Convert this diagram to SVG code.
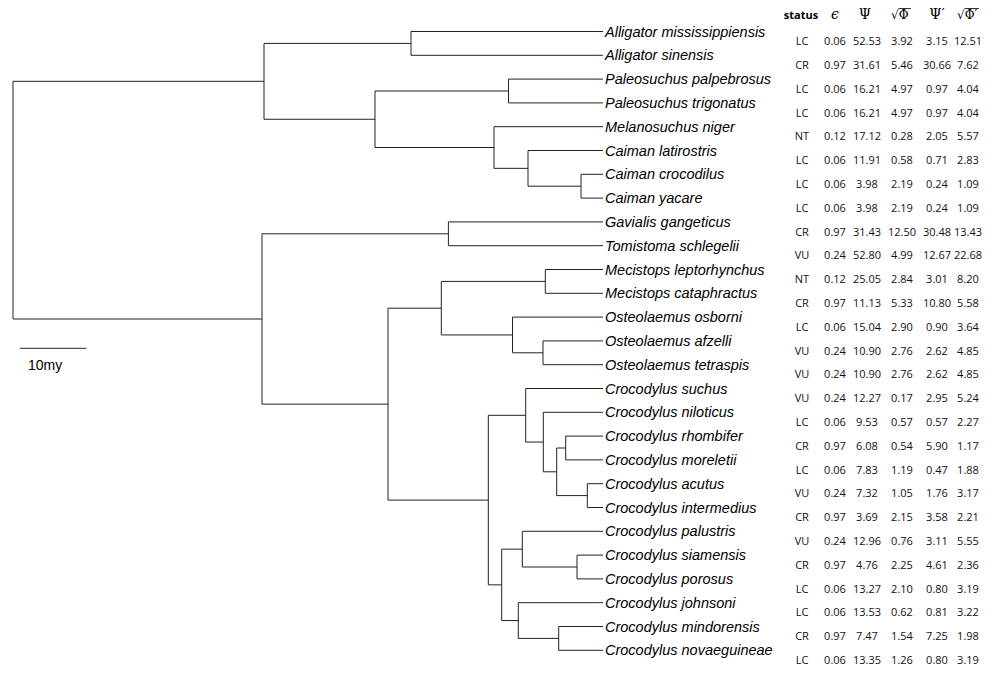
<svg xmlns="http://www.w3.org/2000/svg" width="997" height="682" viewBox="0 0 997 682">
<style>
.e{fill:none;stroke:#222;stroke-width:1}
.sp{font-family:"Liberation Sans",Arial,sans-serif;font-style:italic;font-size:14.5px;fill:#000}
.t{font-family:"Open Sans","Liberation Sans",sans-serif;font-size:11px;fill:#111;text-anchor:middle}
.h{font-family:"DejaVu Serif","Liberation Serif",serif;font-size:14px;fill:#000;text-anchor:middle}
.hs{font-family:"DejaVu Serif","Liberation Serif",serif;font-size:12px;fill:#000}
.st{font-family:"Open Sans","Liberation Sans",sans-serif;font-size:11px;font-weight:bold;fill:#000;text-anchor:middle}
.lab{font-family:"Liberation Sans",Arial,sans-serif;font-size:14px;fill:#000}
</style>
<rect width="997" height="682" fill="#fff"/>
<g id="connectors">
<path class="e" d="M264 81.3H13V319H262"/>
<path class="e" d="M411 43.4H264V119.25H375"/>
<path class="e" d="M603 31.5H411V55.3H603"/>
<path class="e" d="M508.5 91H375V147.5H494"/>
<path class="e" d="M603 79.1H508.5V102.9H603"/>
<path class="e" d="M603 126.7H494V168.35H528"/>
<path class="e" d="M603 150.5H528V186.2H581"/>
<path class="e" d="M603 174.3H581V198.1H603"/>
<path class="e" d="M448.4 233.8H262V404.15H388"/>
<path class="e" d="M603 221.9H448.4V245.7H603"/>
<path class="e" d="M441.3 308.2H388V500.1H488.3"/>
<path class="e" d="M545.3 281.4H441.3V334.95H512.5"/>
<path class="e" d="M603 269.5H545.3V293.3H603"/>
<path class="e" d="M603 317.1H512.5V352.8H543"/>
<path class="e" d="M603 340.9H543V364.7H603"/>
<path class="e" d="M525.7 415.3H488.3V584.85H501.7"/>
<path class="e" d="M603 388.5H525.7V442.05H543.3"/>
<path class="e" d="M603 412.3H543.3V471.8H556.7"/>
<path class="e" d="M565.7 448H556.7V495.6H587.3"/>
<path class="e" d="M603 436.1H565.7V459.9H603"/>
<path class="e" d="M603 483.7H587.3V507.5H603"/>
<path class="e" d="M522.3 549.15H501.7V620.55H518.3"/>
<path class="e" d="M603 531.3H522.3V567H577"/>
<path class="e" d="M603 555.1H577V578.9H603"/>
<path class="e" d="M603 602.7H518.3V638.4H558.7"/>
<path class="e" d="M603 626.5H558.7V650.3H603"/>
</g>
<g id="scalebar">
<path class="e" d="M20 348.3H86.5"/>
<text class="lab" x="28" y="369.5">10my</text>
</g>
<g id="header">
<text class="st" x="801" y="19">status</text>
<text class="h" x="835" y="19" font-style="italic">ϵ</text>
<text class="h" x="865" y="19">Ψ</text>
<text class="hs" x="891" y="19">√Φ</text>
<path d="M898.5 8.5H911" stroke="#000" stroke-width="0.8"/>
<text class="h" x="937" y="19">Ψ′</text>
<text class="hs" x="957" y="19">√Φ′</text>
<path d="M964.5 8.5H979" stroke="#000" stroke-width="0.8"/>
</g>
<g id="leaf-a-mississippiensis" transform="translate(0,31.5)"><text class="sp" x="605" y="5">Alligator mississippiensis</text><g transform="translate(0,13.7)"><text class="t" x="802">LC</text><text class="t" x="835">0.06</text><text class="t" x="867">52.53</text><text class="t" x="902">3.92</text><text class="t" x="937">3.15</text><text class="t" x="968">12.51</text></g></g>
<g id="leaf-a-sinensis" transform="translate(0,55.3)"><text class="sp" x="605" y="5">Alligator sinensis</text><g transform="translate(0,13.7)"><text class="t" x="802">CR</text><text class="t" x="835">0.97</text><text class="t" x="867">31.61</text><text class="t" x="902">5.46</text><text class="t" x="937">30.66</text><text class="t" x="968">7.62</text></g></g>
<g id="leaf-p-palpebrosus" transform="translate(0,79.1)"><text class="sp" x="605" y="5">Paleosuchus palpebrosus</text><g transform="translate(0,13.7)"><text class="t" x="802">LC</text><text class="t" x="835">0.06</text><text class="t" x="867">16.21</text><text class="t" x="902">4.97</text><text class="t" x="937">0.97</text><text class="t" x="968">4.04</text></g></g>
<g id="leaf-p-trigonatus" transform="translate(0,102.9)"><text class="sp" x="605" y="5">Paleosuchus trigonatus</text><g transform="translate(0,13.7)"><text class="t" x="802">LC</text><text class="t" x="835">0.06</text><text class="t" x="867">16.21</text><text class="t" x="902">4.97</text><text class="t" x="937">0.97</text><text class="t" x="968">4.04</text></g></g>
<g id="leaf-m-niger" transform="translate(0,126.7)"><text class="sp" x="605" y="5">Melanosuchus niger</text><g transform="translate(0,13.7)"><text class="t" x="802">NT</text><text class="t" x="835">0.12</text><text class="t" x="867">17.12</text><text class="t" x="902">0.28</text><text class="t" x="937">2.05</text><text class="t" x="968">5.57</text></g></g>
<g id="leaf-c-latirostris" transform="translate(0,150.5)"><text class="sp" x="605" y="5">Caiman latirostris</text><g transform="translate(0,13.7)"><text class="t" x="802">LC</text><text class="t" x="835">0.06</text><text class="t" x="867">11.91</text><text class="t" x="902">0.58</text><text class="t" x="937">0.71</text><text class="t" x="968">2.83</text></g></g>
<g id="leaf-c-crocodilus" transform="translate(0,174.3)"><text class="sp" x="605" y="5">Caiman crocodilus</text><g transform="translate(0,13.7)"><text class="t" x="802">LC</text><text class="t" x="835">0.06</text><text class="t" x="867">3.98</text><text class="t" x="902">2.19</text><text class="t" x="937">0.24</text><text class="t" x="968">1.09</text></g></g>
<g id="leaf-c-yacare" transform="translate(0,198.1)"><text class="sp" x="605" y="5">Caiman yacare</text><g transform="translate(0,13.7)"><text class="t" x="802">LC</text><text class="t" x="835">0.06</text><text class="t" x="867">3.98</text><text class="t" x="902">2.19</text><text class="t" x="937">0.24</text><text class="t" x="968">1.09</text></g></g>
<g id="leaf-g-gangeticus" transform="translate(0,221.9)"><text class="sp" x="605" y="5">Gavialis gangeticus</text><g transform="translate(0,13.7)"><text class="t" x="802">CR</text><text class="t" x="835">0.97</text><text class="t" x="867">31.43</text><text class="t" x="902">12.50</text><text class="t" x="937">30.48</text><text class="t" x="968">13.43</text></g></g>
<g id="leaf-t-schlegelii" transform="translate(0,245.7)"><text class="sp" x="605" y="5">Tomistoma schlegelii</text><g transform="translate(0,13.7)"><text class="t" x="802">VU</text><text class="t" x="835">0.24</text><text class="t" x="867">52.80</text><text class="t" x="902">4.99</text><text class="t" x="937">12.67</text><text class="t" x="968">22.68</text></g></g>
<g id="leaf-m-leptorhynchus" transform="translate(0,269.5)"><text class="sp" x="605" y="5">Mecistops leptorhynchus</text><g transform="translate(0,13.7)"><text class="t" x="802">NT</text><text class="t" x="835">0.12</text><text class="t" x="867">25.05</text><text class="t" x="902">2.84</text><text class="t" x="937">3.01</text><text class="t" x="968">8.20</text></g></g>
<g id="leaf-m-cataphractus" transform="translate(0,293.3)"><text class="sp" x="605" y="5">Mecistops cataphractus</text><g transform="translate(0,13.7)"><text class="t" x="802">CR</text><text class="t" x="835">0.97</text><text class="t" x="867">11.13</text><text class="t" x="902">5.33</text><text class="t" x="937">10.80</text><text class="t" x="968">5.58</text></g></g>
<g id="leaf-o-osborni" transform="translate(0,317.1)"><text class="sp" x="605" y="5">Osteolaemus osborni</text><g transform="translate(0,13.7)"><text class="t" x="802">LC</text><text class="t" x="835">0.06</text><text class="t" x="867">15.04</text><text class="t" x="902">2.90</text><text class="t" x="937">0.90</text><text class="t" x="968">3.64</text></g></g>
<g id="leaf-o-afzelli" transform="translate(0,340.9)"><text class="sp" x="605" y="5">Osteolaemus afzelli</text><g transform="translate(0,13.7)"><text class="t" x="802">VU</text><text class="t" x="835">0.24</text><text class="t" x="867">10.90</text><text class="t" x="902">2.76</text><text class="t" x="937">2.62</text><text class="t" x="968">4.85</text></g></g>
<g id="leaf-o-tetraspis" transform="translate(0,364.7)"><text class="sp" x="605" y="5">Osteolaemus tetraspis</text><g transform="translate(0,13.7)"><text class="t" x="802">VU</text><text class="t" x="835">0.24</text><text class="t" x="867">10.90</text><text class="t" x="902">2.76</text><text class="t" x="937">2.62</text><text class="t" x="968">4.85</text></g></g>
<g id="leaf-c-suchus" transform="translate(0,388.5)"><text class="sp" x="605" y="5">Crocodylus suchus</text><g transform="translate(0,13.7)"><text class="t" x="802">VU</text><text class="t" x="835">0.24</text><text class="t" x="867">12.27</text><text class="t" x="902">0.17</text><text class="t" x="937">2.95</text><text class="t" x="968">5.24</text></g></g>
<g id="leaf-c-niloticus" transform="translate(0,412.3)"><text class="sp" x="605" y="5">Crocodylus niloticus</text><g transform="translate(0,13.7)"><text class="t" x="802">LC</text><text class="t" x="835">0.06</text><text class="t" x="867">9.53</text><text class="t" x="902">0.57</text><text class="t" x="937">0.57</text><text class="t" x="968">2.27</text></g></g>
<g id="leaf-c-rhombifer" transform="translate(0,436.1)"><text class="sp" x="605" y="5">Crocodylus rhombifer</text><g transform="translate(0,13.7)"><text class="t" x="802">CR</text><text class="t" x="835">0.97</text><text class="t" x="867">6.08</text><text class="t" x="902">0.54</text><text class="t" x="937">5.90</text><text class="t" x="968">1.17</text></g></g>
<g id="leaf-c-moreletii" transform="translate(0,459.9)"><text class="sp" x="605" y="5">Crocodylus moreletii</text><g transform="translate(0,13.7)"><text class="t" x="802">LC</text><text class="t" x="835">0.06</text><text class="t" x="867">7.83</text><text class="t" x="902">1.19</text><text class="t" x="937">0.47</text><text class="t" x="968">1.88</text></g></g>
<g id="leaf-c-acutus" transform="translate(0,483.7)"><text class="sp" x="605" y="5">Crocodylus acutus</text><g transform="translate(0,13.7)"><text class="t" x="802">VU</text><text class="t" x="835">0.24</text><text class="t" x="867">7.32</text><text class="t" x="902">1.05</text><text class="t" x="937">1.76</text><text class="t" x="968">3.17</text></g></g>
<g id="leaf-c-intermedius" transform="translate(0,507.5)"><text class="sp" x="605" y="5">Crocodylus intermedius</text><g transform="translate(0,13.7)"><text class="t" x="802">CR</text><text class="t" x="835">0.97</text><text class="t" x="867">3.69</text><text class="t" x="902">2.15</text><text class="t" x="937">3.58</text><text class="t" x="968">2.21</text></g></g>
<g id="leaf-c-palustris" transform="translate(0,531.3)"><text class="sp" x="605" y="5">Crocodylus palustris</text><g transform="translate(0,13.7)"><text class="t" x="802">VU</text><text class="t" x="835">0.24</text><text class="t" x="867">12.96</text><text class="t" x="902">0.76</text><text class="t" x="937">3.11</text><text class="t" x="968">5.55</text></g></g>
<g id="leaf-c-siamensis" transform="translate(0,555.1)"><text class="sp" x="605" y="5">Crocodylus siamensis</text><g transform="translate(0,13.7)"><text class="t" x="802">CR</text><text class="t" x="835">0.97</text><text class="t" x="867">4.76</text><text class="t" x="902">2.25</text><text class="t" x="937">4.61</text><text class="t" x="968">2.36</text></g></g>
<g id="leaf-c-porosus" transform="translate(0,578.9)"><text class="sp" x="605" y="5">Crocodylus porosus</text><g transform="translate(0,13.7)"><text class="t" x="802">LC</text><text class="t" x="835">0.06</text><text class="t" x="867">13.27</text><text class="t" x="902">2.10</text><text class="t" x="937">0.80</text><text class="t" x="968">3.19</text></g></g>
<g id="leaf-c-johnsoni" transform="translate(0,602.7)"><text class="sp" x="605" y="5">Crocodylus johnsoni</text><g transform="translate(0,13.7)"><text class="t" x="802">LC</text><text class="t" x="835">0.06</text><text class="t" x="867">13.53</text><text class="t" x="902">0.62</text><text class="t" x="937">0.81</text><text class="t" x="968">3.22</text></g></g>
<g id="leaf-c-mindorensis" transform="translate(0,626.5)"><text class="sp" x="605" y="5">Crocodylus mindorensis</text><g transform="translate(0,13.7)"><text class="t" x="802">CR</text><text class="t" x="835">0.97</text><text class="t" x="867">7.47</text><text class="t" x="902">1.54</text><text class="t" x="937">7.25</text><text class="t" x="968">1.98</text></g></g>
<g id="leaf-c-novaeguineae" transform="translate(0,650.3)"><text class="sp" x="605" y="5">Crocodylus novaeguineae</text><g transform="translate(0,13.7)"><text class="t" x="802">LC</text><text class="t" x="835">0.06</text><text class="t" x="867">13.35</text><text class="t" x="902">1.26</text><text class="t" x="937">0.80</text><text class="t" x="968">3.19</text></g></g>
</svg>
